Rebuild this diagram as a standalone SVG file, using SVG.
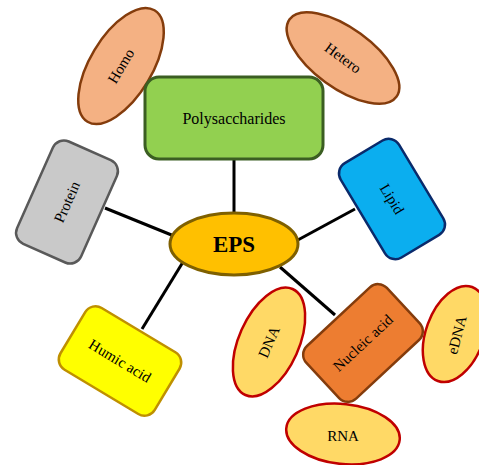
<svg xmlns="http://www.w3.org/2000/svg" width="479" height="465" viewBox="0 0 479 465">
<style>
text{font-family:"Liberation Serif","Times New Roman",serif;font-size:15px;fill:#000;text-anchor:middle;dominant-baseline:central}
.conn line{stroke:#000;stroke-width:3}
.sub{fill:#F4B183;stroke:#843C0C;stroke-width:2.5}
.na{fill:#FFD966;stroke:#C00000;stroke-width:2.5}
</style>
<rect width="479" height="465" fill="#fff"/>
<g class="conn">
<line x1="234" y1="159" x2="234" y2="214"/>
<line x1="105" y1="208" x2="174" y2="236"/>
<line x1="296" y1="241" x2="355" y2="209"/>
<line x1="183" y1="262" x2="142" y2="329"/>
<line x1="280" y1="267" x2="335" y2="315"/>
</g>
<g id="homo"><ellipse class="sub" cx="121" cy="66" rx="65" ry="31" transform="rotate(-59 121 66)"/><text x="121" y="66" transform="rotate(-59 121 66)">Homo</text></g>
<g id="hetero"><ellipse class="sub" cx="343" cy="58" rx="66" ry="30" transform="rotate(36 343 58)"/><text x="343" y="58" transform="rotate(36 343 58)">Hetero</text></g>
<g id="polysaccharides"><rect x="145" y="77" width="178" height="82" rx="14" fill="#92D050" stroke="#3B5E22" stroke-width="3"/><text x="234" y="118" style="font-size:16px">Polysaccharides</text></g>
<g id="protein"><rect x="32" y="146" width="70" height="112" rx="12" fill="#C9C9C9" stroke="#595959" stroke-width="2.5" transform="rotate(24 67 202)"/><text x="67" y="202" transform="rotate(-66 67 202)">Protein</text></g>
<g id="lipid"><rect x="358" y="144" width="68" height="110" rx="12" fill="#0BAEEF" stroke="#0A2A6B" stroke-width="2.5" transform="rotate(-31 392 199)"/><text x="392" y="199" transform="rotate(59 392 199)">Lipid</text></g>
<g id="eps"><ellipse cx="234" cy="244" rx="64" ry="31" fill="#FFC000" stroke="#7F6000" stroke-width="3"/><text x="234" y="244" style="font-size:23px;font-weight:bold">EPS</text></g>
<g id="humic"><rect x="65" y="325" width="110" height="72" rx="12" fill="#FFFF00" stroke="#BF9000" stroke-width="2.5" transform="rotate(31 120 361)"/><text x="120" y="361" transform="rotate(31 120 361)">Humic acid</text></g>
<g id="dna"><ellipse class="na" cx="269" cy="342" rx="58" ry="30" transform="rotate(-66 269 342)"/><text x="269" y="342" transform="rotate(-66 269 342)">DNA</text></g>
<g id="edna"><ellipse class="na" cx="455" cy="334" rx="50" ry="29" transform="rotate(-70 455 334)"/><text x="457" y="335" transform="rotate(-75 457 335)">eDNA</text></g>
<g id="rna"><ellipse class="na" cx="343" cy="434" rx="57" ry="30" transform="rotate(6 343 434)"/><text x="343" y="436">RNA</text></g>
<g id="nucleic"><rect x="308" y="307" width="110" height="72" rx="12" fill="#ED7D31" stroke="#843C0C" stroke-width="2.5" transform="rotate(-43 363 343)"/><text x="363" y="343" transform="rotate(-43 363 343)">Nucleic acid</text></g>
</svg>
